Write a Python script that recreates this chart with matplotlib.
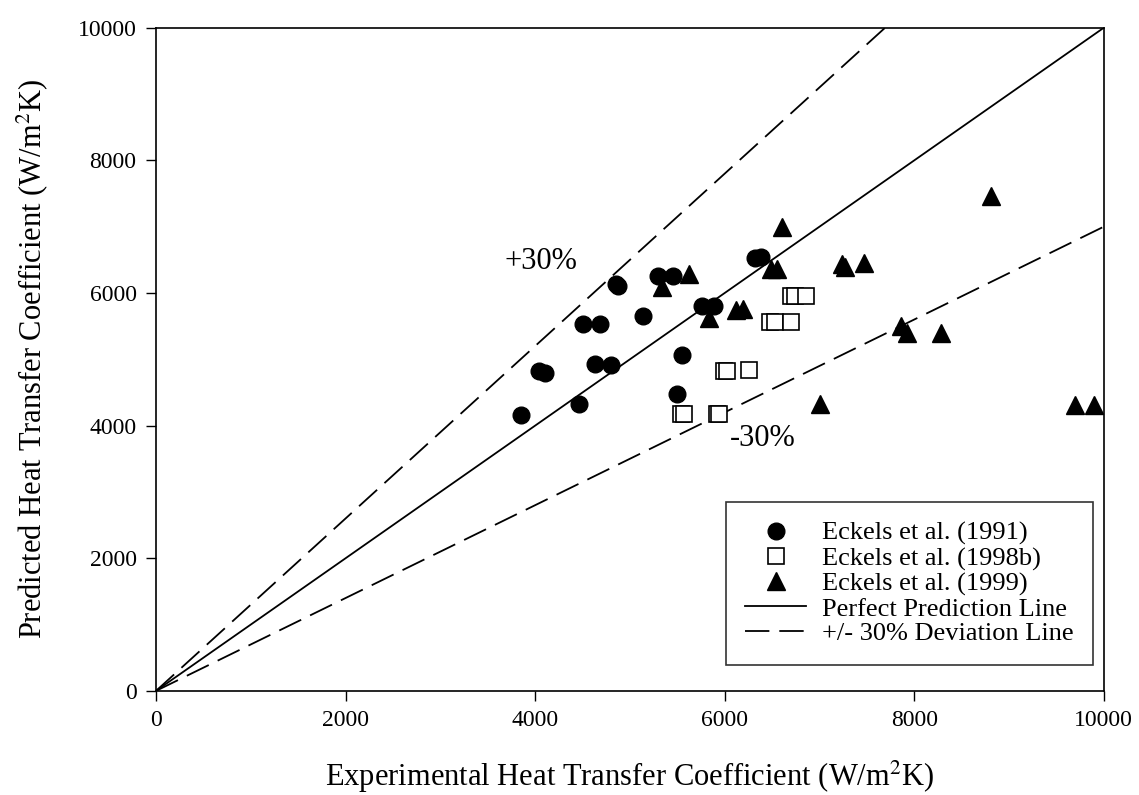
import matplotlib
matplotlib.use('Agg')
import matplotlib.pyplot as plt
import numpy as np

plt.rcParams['font.family'] = ['Liberation Serif', 'DejaVu Serif']
plt.rcParams['mathtext.fontset'] = 'stix'

# Eckels et al. (1991)
x_1991 = [3850, 4465, 4040, 4100, 4630, 4800, 4510, 4690, 5140, 4850, 4880,
          5300, 5460, 5760, 5890, 5550, 5500, 6320, 6380]
y_1991 = [4160, 4330, 4830, 4790, 4930, 4920, 5530, 5530, 5660, 6140, 6110,
          6250, 6260, 5810, 5810, 5070, 4480, 6530, 6540]

# Eckels et al. (1998b)
x_1998 = [5540, 5570, 5920, 5940, 5990, 6020, 6260, 6480, 6530, 6700,
          6700, 6740, 6860]
y_1998 = [4180, 4180, 4180, 4180, 4830, 4830, 4840, 5560, 5560, 5560,
          5960, 5960, 5960]

# Eckels et al. (1999)
x_1999 = [5340, 5620, 5840, 6120, 6190, 6490, 6550, 6610, 7240, 7270, 7470,
          7010, 7860, 7920, 8280, 8810, 9700, 9900]
y_1999 = [6090, 6280, 5620, 5750, 5760, 6360, 6360, 7000, 6440, 6390, 6460,
          4330, 5500, 5400, 5390, 7460, 4310, 4310]

line_x = np.array([0, 10000])

fig = plt.figure(figsize=(11.39, 7.95), dpi=100)
ax = fig.add_axes([0.137, 0.131, 0.832, 0.834])

ax.plot(x_1991, y_1991, 'o', color='black', markersize=12, zorder=3,
        label='Eckels et al. (1991)')
ax.plot(x_1998, y_1998, 's', markerfacecolor='white', markeredgecolor='black',
        markeredgewidth=1.2, markersize=11, zorder=3, label='Eckels et al. (1998b)')
ax.plot(x_1999, y_1999, '^', color='black', markersize=12.5, zorder=3,
        label='Eckels et al. (1999)')

ax.plot(line_x, line_x, '-', color='black', linewidth=1.3,
        label='Perfect Prediction Line')
ax.plot(line_x, 1.3 * line_x, color='black', linewidth=1.3, dashes=(13.5, 5.5),
        label='+/- 30% Deviation Line')
ax.plot(line_x, 0.7 * line_x, color='black', linewidth=1.3, dashes=(13.5, 5.5))

ax.text(4060, 6470, '+30%', fontsize=22, ha='center', va='center')
ax.text(6400, 3800, '-30%', fontsize=22, ha='center', va='center')

ax.set_xlim(0, 10000)
ax.set_ylim(0, 10000)
ax.set_xticks(np.arange(0, 10001, 2000))
ax.set_yticks(np.arange(0, 10001, 2000))
ax.tick_params(direction='out', length=7, width=1, labelsize=17, pad=7,
               top=False, right=False)
for s in ax.spines.values():
    s.set_linewidth(1.2)

ax.set_xlabel(r'Experimental Heat Transfer Coefficient (W/m$^2$K)', fontsize=22)
ax.set_ylabel(r'Predicted Heat Transfer Coefficient (W/m$^2$K)', fontsize=22)
ax.xaxis.set_label_coords(0.5, -0.103)
ax.yaxis.set_label_coords(-0.112, 0.5)

leg = ax.legend(loc='center', bbox_to_anchor=(0.795, 0.162), fontsize=19,
                frameon=True, fancybox=False, edgecolor='black',
                handlelength=2.3, labelspacing=0.05, borderpad=0.75,
                handletextpad=0.6, borderaxespad=0)
leg.get_frame().set_linewidth(1.2)

fig.savefig('out.png', dpi=100)
